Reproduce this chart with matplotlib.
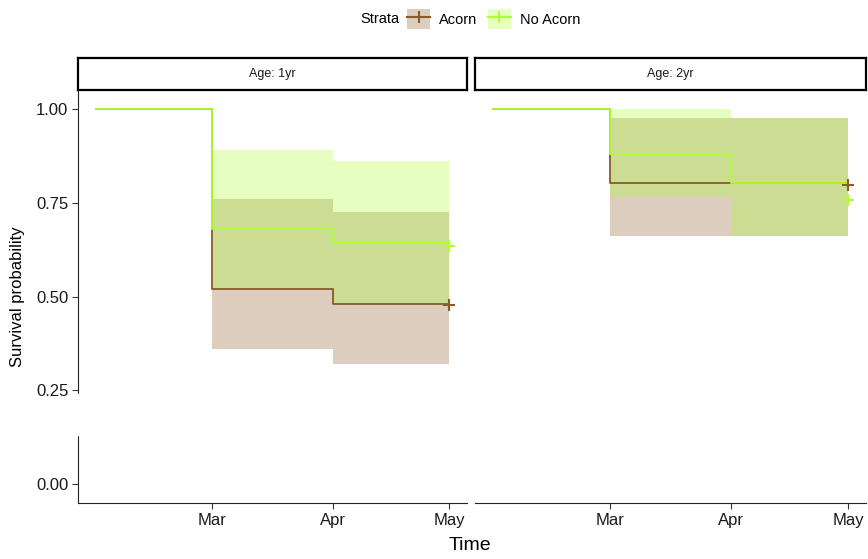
import matplotlib.pyplot as plt
from matplotlib.patches import Patch, Rectangle
from matplotlib.lines import Line2D

plt.rcParams['font.family'] = ['Liberation Sans', 'DejaVu Sans']

# days since start; Mar, Apr, May boundaries
days = [0, 30, 61, 91]
tick_days = [30, 61, 91]
tick_labels = ['Mar', 'Apr', 'May']
panels = ['Age: 1yr', 'Age: 2yr']
strata = ['Acorn', 'No Acorn']

# survival estimates per panel, per stratum (values for each interval)
surv_1yr_acorn = [1.0, 0.521, 0.481]
lower_1yr_acorn = [1.0, 0.360, 0.321]
upper_1yr_acorn = [1.0, 0.759, 0.725]
surv_1yr_noacorn = [1.0, 0.681, 0.642]
lower_1yr_noacorn = [1.0, 0.521, 0.481]
upper_1yr_noacorn = [1.0, 0.891, 0.860]

surv_2yr_acorn = [1.0, 0.803, 0.803]
lower_2yr_acorn = [1.0, 0.661, 0.661]
upper_2yr_acorn = [1.0, 0.975, 0.975]
surv_2yr_noacorn = [1.0, 0.880, 0.803]
lower_2yr_noacorn = [1.0, 0.764, 0.661]
upper_2yr_noacorn = [1.0, 1.0, 0.976]

# censor marks at the last day
censor_1yr = [0.478, 0.635]
censor_2yr = [0.796, 0.758]

line_cols = ['#8B5A2B', '#ADFF2F']
fill_cols = ['#dccdbf', '#e6ffc1']

data = [
    [(surv_1yr_acorn, lower_1yr_acorn, upper_1yr_acorn),
     (surv_1yr_noacorn, lower_1yr_noacorn, upper_1yr_noacorn)],
    [(surv_2yr_acorn, lower_2yr_acorn, upper_2yr_acorn),
     (surv_2yr_noacorn, lower_2yr_noacorn, upper_2yr_noacorn)],
]
censors = [censor_1yr, censor_2yr]

fig = plt.figure(figsize=(8.68, 5.59), dpi=100)
W, H = 868.0, 559.0
lefts = [78, 475]
rights = [467, 866]
ax_bot, ax_top, strip_top = 503, 90, 58


def pad(v):
    return list(v) + [v[-1]]


for i in range(2):
    l, r = lefts[i], rights[i]
    ax = fig.add_axes([l / W, 1 - ax_bot / H, (r - l) / W, (ax_bot - ax_top) / H])
    for j in range(2):
        s, lo, up = data[i][j]
        ax.fill_between(days, pad(lo), pad(up), step='post',
                        color=line_cols[j], alpha=0.3, lw=0, zorder=1 + j)
    for j in range(2):
        s = data[i][j][0]
        ax.step(days, pad(s), where='post', color=line_cols[j], lw=1.3, zorder=4 + j)
        ax.plot(days[-1], censors[i][j], marker='+', color=line_cols[j],
                ms=9, mew=1.5, zorder=6 + j, clip_on=False)

    ax.set_xlim(-4.55, 95.55)
    ax.set_ylim(-0.05, 1.05)
    ax.set_xticks(tick_days)
    ax.set_xticklabels(tick_labels, fontsize=12)
    ax.spines['top'].set_visible(False)
    ax.spines['right'].set_visible(False)
    ax.spines['bottom'].set_color('#222222')
    ax.spines['left'].set_color('#222222')
    ax.tick_params(length=4, color='#333333', labelcolor='#1a1a1a', pad=3)
    if i == 0:
        ax.set_yticks([0, 0.25, 0.5, 0.75, 1.0])
        ax.set_yticklabels(['0.00', '0.25', '0.50', '0.75', '1.00'], fontsize=12)
    else:
        ax.spines['left'].set_visible(False)
        ax.set_yticks([])

    # facet strip
    sax = fig.add_axes([l / W, 1 - ax_top / H, (r - l) / W, (ax_top - strip_top) / H])
    sax.set_xticks([])
    sax.set_yticks([])
    for sp in sax.spines.values():
        sp.set_linewidth(1.6)
        sp.set_color('black')
    sax.text(0.5, 0.5, panels[i], ha='center', va='center', fontsize=9,
             color='#1a1a1a', transform=sax.transAxes)

# gap in the left axis line
fig.add_artist(Rectangle((70 / W, 1 - 435 / H), 18 / W, 41 / H,
                         transform=fig.transFigure, color='white', zorder=20))

fig.text(18 / W, 1 - 297 / H, 'Survival probability', rotation=90,
         ha='center', va='center', fontsize=12)
fig.text(470 / W, 1 - 546 / H, 'Time', ha='center', va='center', fontsize=14)

# legend
fig.text(399 / W, 1 - 19 / H, 'Strata', ha='right', va='center', fontsize=10.5)
handles = []
for j in range(2):
    handles.append((Patch(facecolor=fill_cols[j], edgecolor='none'),
                    Line2D([], [], color=line_cols[j], lw=1.5, marker='+', ms=8, mew=1.5)))
fig.legend(handles, strata, ncol=2, loc='center left',
           bbox_to_anchor=(407 / W, 1 - 19 / H), frameon=False, fontsize=10.5,
           handlelength=1.6, handleheight=1.65, handletextpad=0.6, columnspacing=0.7,
           borderpad=0, borderaxespad=0)

fig.savefig('out.png', dpi=100)
